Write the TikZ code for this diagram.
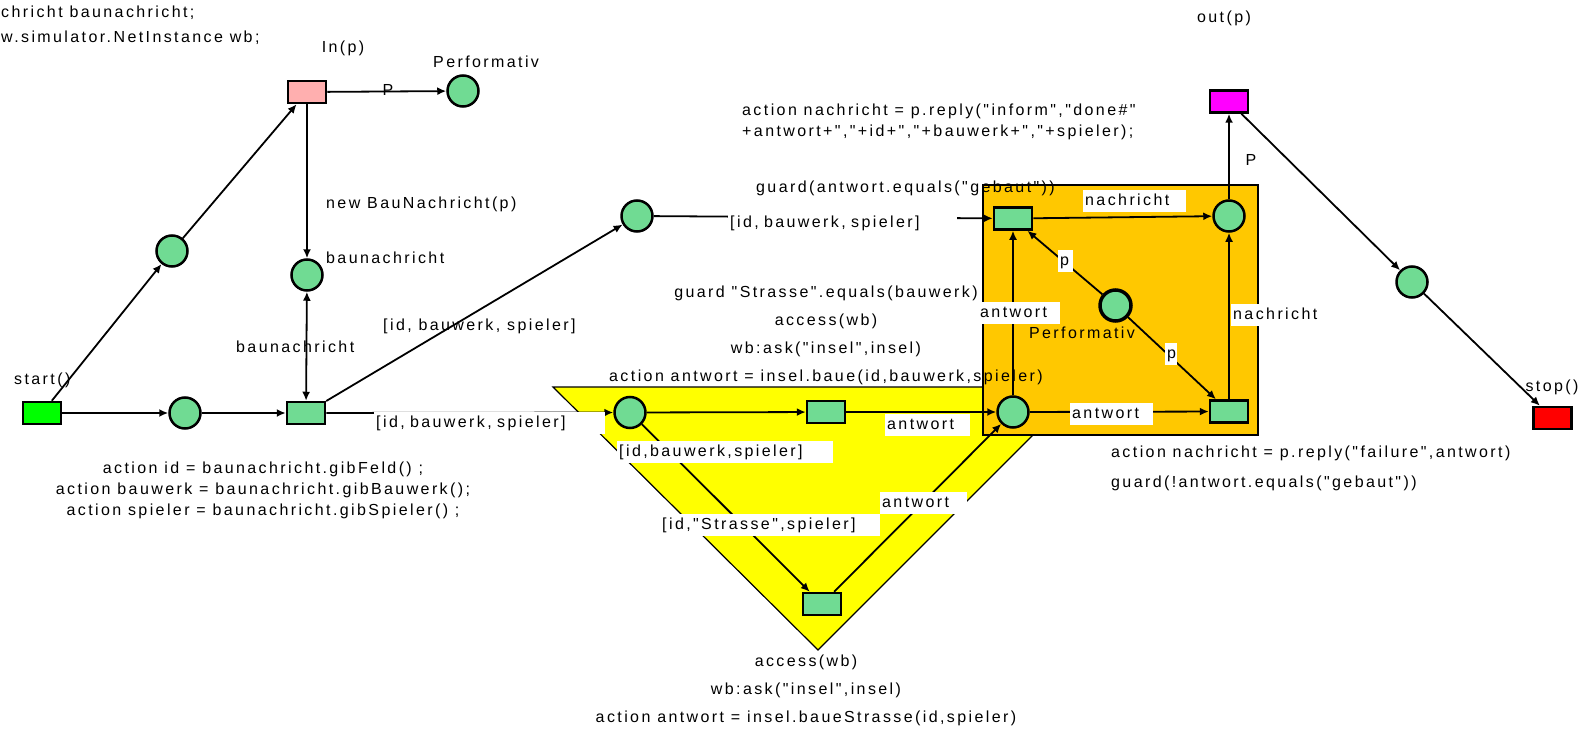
\documentclass[tikz,border=0pt]{standalone}
\usepackage{fontspec}
\newfontfamily\netfont[LetterSpace=15]{Liberation Sans}
\usetikzlibrary{arrows.meta}
\definecolor{placegreen}{RGB}{112,219,147}
\definecolor{inpink}{RGB}{255,175,175}
\definecolor{outmagenta}{RGB}{255,0,255}
\definecolor{startgreen}{RGB}{0,255,0}
\definecolor{stopred}{RGB}{255,0,0}
\definecolor{boxorange}{RGB}{255,200,0}
\definecolor{triyellow}{RGB}{255,255,0}

\begin{document}
\begin{tikzpicture}[x=1pt,y=-1pt,
  font=\netfont\fontsize{16}{21}\selectfont,
  place/.style={circle,draw,line width=2.5pt,fill=placegreen,minimum size=31pt,inner sep=0pt},
  trans/.style={rectangle,draw,line width=2.5pt,fill=placegreen,minimum width=38pt,minimum height=22pt,inner sep=0pt},
  arc/.style={line width=1.8pt,-{Latex[length=9pt,width=8pt]}},
  arcboth/.style={line width=1.8pt,{Latex[length=9pt,width=8pt]}-{Latex[length=9pt,width=8pt]}},
  txt/.style={inner sep=0pt},
  lbl/.style={fill=white,anchor=north west,align=left,inner xsep=2pt,inner ysep=3pt,text height=12pt,text depth=4pt}]

  \useasboundingbox (0,0) rectangle (1587,730);

  % coloured regions
  \filldraw[fill=triyellow,line width=1.2pt] (553,387) -- (1081,387) -- (818,650) -- cycle;
  \filldraw[fill=boxorange,line width=2.5pt] (983,185) rectangle (1258,435);

  % places
  \node[place] (p1) at (172,251) {};
  \node[place] (p2) at (185,413) {};
  \node[place] (pbau) at (307,275) {};
  \node[place] (perfin) at (463,91) {};
  \node[place] (p3) at (637,216) {};
  \node[place] (p4) at (630,412.5) {};
  \node[place] (pb) at (1013,412) {};
  \node[place] (tr) at (1229,216) {};
  \node[place,line width=3.5pt] (perf) at (1115.5,305.5) {};
  \node[place] (p5) at (1412,282) {};

  % transitions
  \node[trans,fill=startgreen] (start) at (42,413) {};
  \node[trans,fill=inpink] (inp) at (307,92) {};
  \node[trans] (t2) at (306,413) {};
  \node[trans] (tm) at (826,412) {};
  \node[trans] (tl) at (822,604) {};
  \node[trans] (ta) at (1013,218.5) {};
  \node[trans] (tb) at (1229,411.5) {};
  \node[trans,fill=outmagenta] (outp) at (1229,101.5) {};
  \node[trans,fill=stopred] (stop) at (1552.5,418) {};

  % arcs
  \foreach \a/\b in {start/p1,p1/inp,start/p2,p2/t2,inp/perfin,inp/pbau,t2/p3,p3/ta,
                     t2/p4,p4/tm,tm/pb,p4/tl,tl/pb,pb/ta,ta/tr,perf/ta,perf/tb,pb/tb,
                     tb/tr,tr/outp,outp/p5,p5/stop}
    \draw[arc] (\a) -- (\b);
  \draw[arcboth] (pbau) -- (t2);

  % arc inscriptions
  \node[lbl,text width=227pt] (lt2p4) at (374,412) {[id, bauwerk, spieler]};
  \node[lbl,text width=225pt] (lp3ta) at (728,212) {[id, bauwerk, spieler]};
  \node[lbl,text width=212pt] (lp4tm) at (617,441) {[id,bauwerk,spieler]};
  \node[lbl,text width=81pt] (ltmpb) at (885,414) {antwort};
  \node[lbl,text width=216pt] (lp4tl) at (660,514) {[id,"Strasse",spieler]};
  \node[lbl,text width=83pt] (ltlpb) at (880,492) {antwort};
  \node[lbl,text width=99pt] (ltatr) at (1083,190) {nachricht};
  \node[lbl,text width=78pt] (lpbta) at (978,302) {antwort};
  \node[lbl,text width=79pt] (lpbtb) at (1070,403) {antwort};
  \node[lbl,text width=86pt] (ltbtr) at (1231,304) {nachricht};
  \node[lbl,text width=11pt] (lperfta) at (1058,250) {p};
  \node[lbl,text width=8pt] (lperftb) at (1165,343) {p};

  % plain texts
  \node[txt,anchor=west] (decl1) at (1,13) {chricht baunachricht;};
  \node[txt,anchor=west] (decl2) at (1,38) {w.simulator.NetInstance wb;};
  \node[txt] (inplbl) at (343,48) {In(p)};
  \node[txt,anchor=west] (perfinlbl) at (433,62) {Performativ};
  \node[txt] (pinlbl) at (388,90) {P};
  \node[txt,anchor=west] (newlbl) at (326,204) {new BauNachricht(p)};
  \node[txt,anchor=west] (baulbl) at (326,258) {baunachricht};
  \node[txt,anchor=west] (bauarc) at (236,347) {baunachricht};
  \node[txt,anchor=west] (idlbl) at (383,326) {[id, bauwerk, spieler]};
  \node[txt,anchor=west] (startlbl) at (14,380) {start()};
  \node[txt,align=center] (t2inscr) at (263,490)
    {action id = baunachricht.gibFeld() ;\\action bauwerk = baunachricht.gibBauwerk();\\action spieler = baunachricht.gibSpieler() ;};
  \node[txt,anchor=west,align=left] (replylbl) at (742,121.5)
    {action nachricht = p.reply("inform","done\#"\\+antwort+","+id+","+bauwerk+","+spieler);};
  \node[txt,anchor=west] (guardlbl) at (756,188) {guard(antwort.equals("gebaut"))};
  \node[txt,align=center] (tminscr) at (826,335.5)
    {guard "Strasse".equals(bauwerk)\\[7pt]access(wb)\\[7pt]wb:ask("insel",insel)\\[7pt]action antwort = insel.baue(id,bauwerk,spieler)};
  \node[txt,align=center] (tlinscr) at (806,690)
    {access(wb)\\[7pt]wb:ask("insel",insel)\\[7pt]action antwort = insel.baueStrasse(id,spieler)};
  \node[txt] (perflbl) at (1082,333) {Performativ};
  \node[txt] (outlbl) at (1224,18) {out(p)};
  \node[txt] (poutlbl) at (1251,160) {P};
  \node[txt] (stoplbl) at (1552,387) {stop()};
  \node[txt,anchor=west,align=left] (tbinscr) at (1111,468)
    {action nachricht = p.reply("failure",antwort)\\[9pt]guard(!antwort.equals("gebaut"))};
\end{tikzpicture}
\end{document}
